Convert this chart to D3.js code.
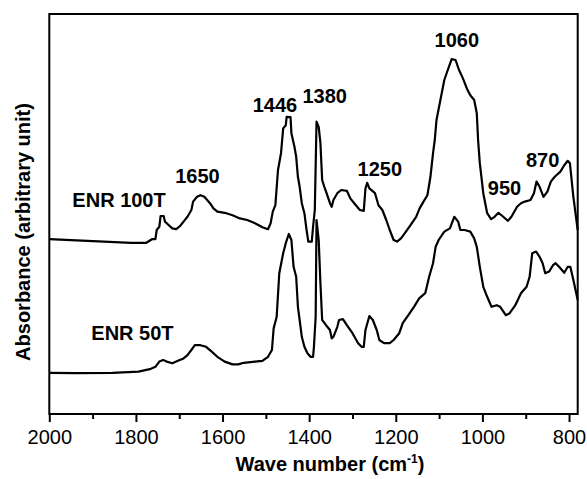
<!DOCTYPE html>
<html>
<head>
<meta charset="utf-8">
<script src="https://cdn.jsdelivr.net/npm/d3@7"></script>
<style>
body { margin: 0; background: #fff; }
text { font-family: "Liberation Sans", Arial, sans-serif; fill: #000; }
.tick-label { font-size: 20px; }
.title { font-size: 20px; font-weight: bold; }
.note { font-size: 20px; font-weight: bold; }
</style>
</head>
<body>
<svg width="587" height="479"></svg>
<script>
// ENR 100T spectrum (wave number, absorbance in arbitrary units)
var waveUpper = [2000, 1811, 1776, 1763, 1755, 1752, 1746, 1743, 1736, 1733, 1724, 1716, 1707, 1698, 1690, 1681,
    1672, 1668, 1659, 1651, 1642, 1629, 1621, 1612, 1595, 1577, 1560, 1543, 1525, 1508, 1495, 1489, 1484, 1478,
    1472, 1465, 1460, 1454, 1452, 1443, 1441, 1434, 1430, 1426, 1422, 1417, 1411, 1406, 1402, 1394, 1391, 1387,
    1383, 1378, 1374, 1370, 1365, 1361, 1352, 1348, 1344, 1335, 1326, 1313, 1305, 1296, 1283, 1274, 1270, 1266,
    1261, 1248, 1240, 1231, 1222, 1214, 1205, 1197, 1188, 1179, 1166, 1153, 1145, 1136, 1127, 1120, 1114, 1110,
    1106, 1097, 1088, 1080, 1071, 1062, 1054, 1045, 1036, 1028, 1019, 1013, 1010, 1006, 998, 989, 980, 972, 963,
    954, 941, 933, 920, 911, 902, 889, 881, 875, 868, 859, 850, 842, 833, 820, 811, 803, 798, 790, 780];
var absUpper = [43.7, 42.8, 42.8, 43.7, 43.7, 46.0, 46.8, 49.5, 49.5, 48.1, 47.2, 46.4, 46.2, 47.0, 48.1, 49.3,
    51.0, 53.1, 54.3, 54.7, 54.3, 52.7, 51.4, 50.6, 50.3, 49.7, 48.9, 48.5, 47.7, 46.7, 46.2, 47.7, 50.6, 52.2,
    61.0, 65.2, 71.4, 72.2, 74.3, 74.2, 70.2, 66.8, 64.3, 59.3, 56.8, 52.7, 50.2, 46.0, 43.1, 43.1, 46.8, 51.0,
    73.1, 71.8, 67.7, 58.5, 56.8, 55.6, 52.7, 51.8, 53.5, 55.2, 56.0, 55.8, 53.9, 52.7, 51.0, 50.8, 56.4, 57.8,
    56.4, 55.2, 52.2, 51.0, 48.5, 46.0, 43.5, 43.1, 43.9, 45.2, 47.2, 49.3, 51.4, 53.1, 54.7, 59.3, 65.2, 68.5,
    73.5, 78.5, 83.5, 86.0, 88.7, 88.5, 86.0, 83.9, 81.4, 79.7, 78.5, 75.2, 68.5, 62.7, 55.2, 50.2, 48.7, 49.3, 50.3,
    49.5, 48.3, 49.3, 51.8, 52.7, 53.1, 53.5, 55.2, 58.1, 56.8, 54.3, 55.6, 58.1, 59.3, 60.6, 62.2, 63.3, 62.7, 54.3, 46.0];

// ENR 50T spectrum
var waveLower = [2000, 1941, 1854, 1794, 1768, 1755, 1746, 1737, 1729, 1716, 1703, 1690, 1681, 1672, 1664, 1651,
    1638, 1625, 1612, 1595, 1577, 1564, 1551, 1525, 1508, 1495, 1486, 1482, 1475, 1469, 1460, 1454, 1447, 1441,
    1436, 1430, 1426, 1422, 1417, 1411, 1404, 1397, 1391, 1389, 1385, 1383, 1378, 1374, 1370, 1361, 1352, 1348,
    1344, 1335, 1331, 1322, 1313, 1300, 1287, 1279, 1274, 1270, 1261, 1253, 1244, 1238, 1227, 1214, 1205, 1192,
    1184, 1171, 1158, 1146, 1132, 1123, 1114, 1108, 1101, 1088, 1075, 1065, 1056, 1051, 1041, 1028, 1019, 1013,
    1006, 998, 989, 979, 967, 959, 946, 937, 924, 911, 898, 891, 885, 876, 868, 861, 855, 846, 837, 831, 823, 811,
    803, 797, 790, 780];
var absLower = [10.3, 10.2, 10.3, 10.6, 11.2, 11.8, 13.1, 13.5, 13.1, 12.7, 13.3, 13.9, 14.7, 16.0, 17.2, 17.2,
    16.8, 15.6, 14.3, 13.1, 12.4, 12.4, 12.8, 13.1, 13.3, 14.3, 16.0, 21.4, 24.3, 35.2, 40.2, 42.7, 45.0, 43.5,
    36.8, 34.3, 26.8, 23.5, 19.3, 16.8, 15.2, 14.3, 14.3, 16.8, 24.3, 48.5, 43.5, 32.7, 23.5, 22.2, 21.0, 18.9,
    19.3, 21.8, 23.5, 23.7, 22.2, 20.2, 17.7, 16.8, 16.8, 21.0, 24.5, 23.5, 21.0, 18.5, 17.7, 17.7, 18.5, 20.2,
    22.7, 24.7, 26.8, 28.9, 30.2, 34.3, 37.7, 41.8, 43.5, 45.6, 46.4, 49.3, 48.1, 46.0, 46.0, 45.6, 43.9, 41.8,
    36.8, 31.8, 29.3, 26.8, 27.2, 26.8, 24.7, 25.2, 27.2, 30.2, 31.8, 34.3, 40.2, 40.6, 39.3, 37.7, 35.2, 35.6,
    37.2, 37.7, 36.8, 35.3, 36.8, 36.8, 33.5, 28.5];

var majorTicks = [2000, 1800, 1600, 1400, 1200, 1000, 800];
var minorTicks = [1900, 1700, 1500, 1300, 1100, 900];

// peak labels placed in data units: text, wave number, absorbance
var noteText = ['1060', '1446', '1380', '1650', 'ENR 100T', '1250', '950', '870', 'ENR 50T'];
var noteWave = [1059, 1479, 1364, 1658, 1839, 1237, 949, 861, 1808];
var noteAbs = [91.8, 75.6, 77.7, 57.7, 51.8, 59.6, 54.7, 61.8, 18.5];

// plot box (note: "top" is a reserved window name, so avoid it)
var boxL = 49.3, boxR = 577.7, boxT = 14, boxB = 414;

var x = d3.scaleLinear().domain([2000, 780]).range([boxL, boxR]);
var y = d3.scaleLinear().domain([0, 100]).range([boxB, boxT]);

var svg = d3.select('svg');

var line = d3.line()
    .x(function(d){ return x(d[0]); })
    .y(function(d){ return y(d[1]); });

var series = [d3.zip(waveUpper, absUpper), d3.zip(waveLower, absLower)];

svg.selectAll('path.spec')
    .data(series)
    .enter()
    .append('path')
    .attr('class', 'spec')
    .attr('d', line)
    .attr('fill', 'none')
    .attr('stroke', '#000')
    .attr('stroke-width', 2.2)
    .attr('stroke-linejoin', 'round');

// frame
svg.append('rect')
    .attr('x', boxL)
    .attr('y', boxT)
    .attr('width', boxR - boxL)
    .attr('height', boxB - boxT)
    .attr('fill', 'none')
    .attr('stroke', '#000')
    .attr('stroke-width', 2);

var xAxis = d3.axisBottom(x).tickValues(majorTicks).tickSize(8)
    .tickFormat(d3.format('d'));

var gx = svg.append('g')
    .attr('transform', 'translate(0,' + boxB + ')')
    .call(xAxis);
gx.select('.domain').remove();
gx.selectAll('line').attr('stroke-width', 2);
gx.selectAll('text')
    .attr('class', 'tick-label')
    .attr('dy', null)
    .attr('y', 30);
gx.attr('font-family', null).attr('font-size', null);

var xMinor = d3.axisBottom(x).tickValues(minorTicks).tickSize(5).tickFormat('');
var gm = svg.append('g')
    .attr('transform', 'translate(0,' + boxB + ')')
    .call(xMinor);
gm.select('.domain').remove();
gm.selectAll('line').attr('stroke-width', 2);

// axis titles
var xt = svg.append('text')
    .attr('class', 'title')
    .attr('x', 330)
    .attr('y', 471)
    .attr('text-anchor', 'middle');
xt.append('tspan').text('Wave number (cm');
xt.append('tspan').attr('font-size', '12px').attr('dy', -8).text('-1');
xt.append('tspan').attr('dy', 8).text(')');

svg.append('text')
    .attr('class', 'title')
    .attr('transform', 'translate(30,232)rotate(-90)')
    .attr('text-anchor', 'middle')
    .text('Absorbance (arbitrary unit)');

svg.selectAll('text.note')
    .data(noteText)
    .enter()
    .append('text')
    .attr('class', 'note')
    .attr('text-anchor', 'middle')
    .attr('x', function(d, i){ return x(noteWave[i]); })
    .attr('y', function(d, i){ return y(noteAbs[i]); })
    .text(function(d){ return d; });
</script>
</body>
</html>
